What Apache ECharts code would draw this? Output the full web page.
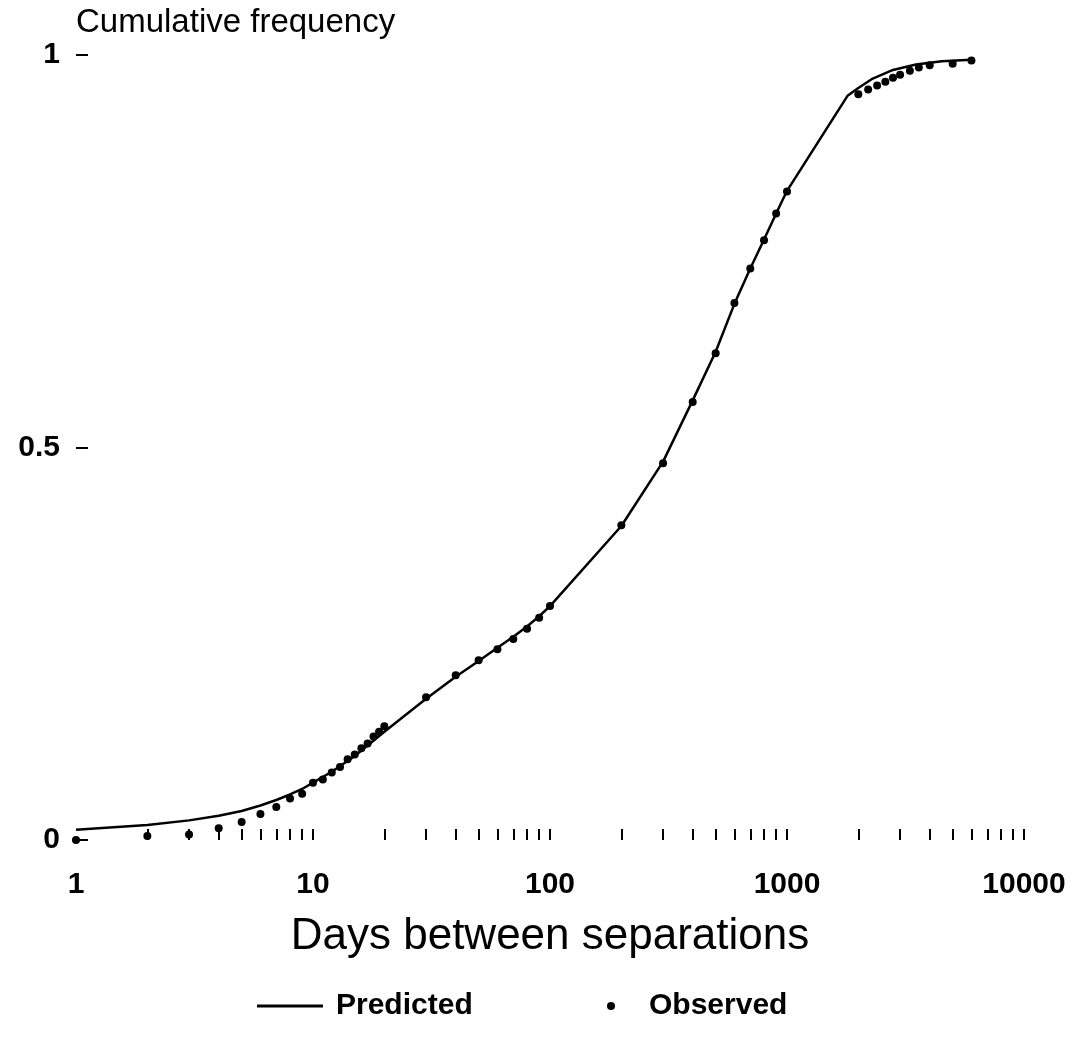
<!DOCTYPE html>
<html>
<head>
<meta charset="utf-8">
<style>
  html, body { margin: 0; padding: 0; background: #fff; }
  #chart { width: 1074px; height: 1040px; }
</style>
<script src="https://cdn.jsdelivr.net/npm/echarts@6/dist/echarts.min.js"></script>
</head>
<body>
<div id="chart"></div>
<script>
// Days between separations (log scale) and cumulative frequency
const predictedDays = [1, 2, 3, 4, 5, 6, 7, 8, 9, 10, 12, 15, 20, 30, 40, 50, 60, 70, 80, 90, 100,
  200, 300, 400, 500, 600, 700, 800, 900, 1000, 1800, 2000, 2300, 2800, 3500, 4500, 6000];
const predictedFreq = [0.013, 0.019, 0.025, 0.031, 0.037, 0.044, 0.051, 0.058, 0.065, 0.073, 0.087, 0.107, 0.138,
  0.180, 0.208, 0.228, 0.245, 0.259, 0.272, 0.285, 0.298,
  0.400, 0.482, 0.560, 0.622, 0.683, 0.728, 0.765, 0.798, 0.827, 0.948, 0.958, 0.970, 0.981, 0.988, 0.992, 0.994];

const observedDays = [1, 2, 3, 4, 5, 6, 7, 8, 9, 10, 11, 12, 13, 14, 15, 16, 17, 18, 19, 20,
  30, 40, 50, 60, 70, 80, 90, 100, 200, 300, 400, 500, 600, 700, 800, 900, 1000,
  2000, 2200, 2400, 2600, 2800, 3000, 3300, 3600, 4000, 5000, 6000];
const observedFreq = [0, 0.005, 0.007, 0.015, 0.023, 0.033, 0.042, 0.053, 0.059, 0.073, 0.077, 0.086, 0.093, 0.103,
  0.109, 0.117, 0.123, 0.132, 0.138, 0.145,
  0.182, 0.210, 0.229, 0.243, 0.256, 0.269, 0.283, 0.298, 0.401, 0.480, 0.558, 0.620, 0.684, 0.728, 0.764, 0.798, 0.826,
  0.950, 0.956, 0.961, 0.966, 0.971, 0.975, 0.980, 0.984, 0.987, 0.989, 0.993];

// tick marks at 2..10 of every decade
const xTickValues = [2, 3, 4, 5, 6, 7, 8, 9, 10,
  20, 30, 40, 50, 60, 70, 80, 90, 100,
  200, 300, 400, 500, 600, 700, 800, 900, 1000,
  2000, 3000, 4000, 5000, 6000, 7000, 8000, 9000, 10000];
const xLabelValues = [1, 10, 100, 1000, 10000];

const FONT = '"Liberation Sans", Arial, Helvetica, sans-serif';
const zip = (a, b) => a.map((v, i) => [v, b[i]]);

const chart = echarts.init(document.getElementById('chart'), null, { renderer: 'canvas' });
chart.setOption({
  backgroundColor: '#ffffff',
  animation: false,
  grid: { left: 76, right: 50, top: 55, bottom: 200, containLabel: false },
  xAxis: {
    type: 'log',
    logBase: 10,
    min: 1,
    max: 10000,
    name: 'Days between separations',
    nameLocation: 'middle',
    nameGap: 75,
    nameTextStyle: { fontFamily: FONT, fontSize: 44, color: '#000' },
    axisLine: { show: false },
    axisTick: {
      show: true, inside: true, length: 11,
      customValues: xTickValues,
      lineStyle: { color: '#000', width: 2 }
    },
    axisLabel: {
      customValues: xLabelValues,
      margin: 30,
      fontFamily: FONT, fontSize: 30, fontWeight: 'bold', color: '#000',
      formatter: v => String(Math.round(v))
    },
    splitLine: { show: false },
    minorTick: { show: false }
  },
  yAxis: {
    type: 'value',
    min: 0,
    max: 1,
    interval: 0.5,
    name: 'Cumulative frequency',
    nameLocation: 'end',
    nameGap: 16,
    nameTextStyle: { fontFamily: FONT, fontSize: 33, color: '#000', align: 'left' },
    axisLine: { show: false },
    axisTick: { show: true, inside: true, length: 12, lineStyle: { color: '#000', width: 2 } },
    axisLabel: {
      margin: 16,
      fontFamily: FONT, fontSize: 30, fontWeight: 'bold', color: '#000',
      formatter: v => String(v)
    },
    splitLine: { show: false }
  },
  legend: [
    {
      data: [{ name: 'Predicted', icon: 'rect' }],
      left: 252, top: 986,
      itemWidth: 66, itemHeight: 3,
      textStyle: { fontFamily: FONT, fontSize: 30, fontWeight: 'bold', color: '#000', padding: [0, 0, 0, 8] }
    },
    {
      data: [{ name: 'Observed', icon: 'circle' }],
      left: 602, top: 986,
      itemWidth: 8, itemHeight: 8,
      textStyle: { fontFamily: FONT, fontSize: 30, fontWeight: 'bold', color: '#000', padding: [0, 0, 0, 29] }
    }
  ],
  series: [
    {
      name: 'Predicted',
      type: 'line',
      data: zip(predictedDays, predictedFreq),
      symbol: 'none',
      smooth: false,
      lineStyle: { color: '#000', width: 2.5 },
      itemStyle: { color: '#000' },
      z: 2
    },
    {
      name: 'Observed',
      type: 'scatter',
      data: zip(observedDays, observedFreq),
      symbol: 'circle',
      symbolSize: 8,
      itemStyle: { color: '#000', opacity: 1 },
      z: 3
    }
  ]
});
</script>
</body>
</html>
